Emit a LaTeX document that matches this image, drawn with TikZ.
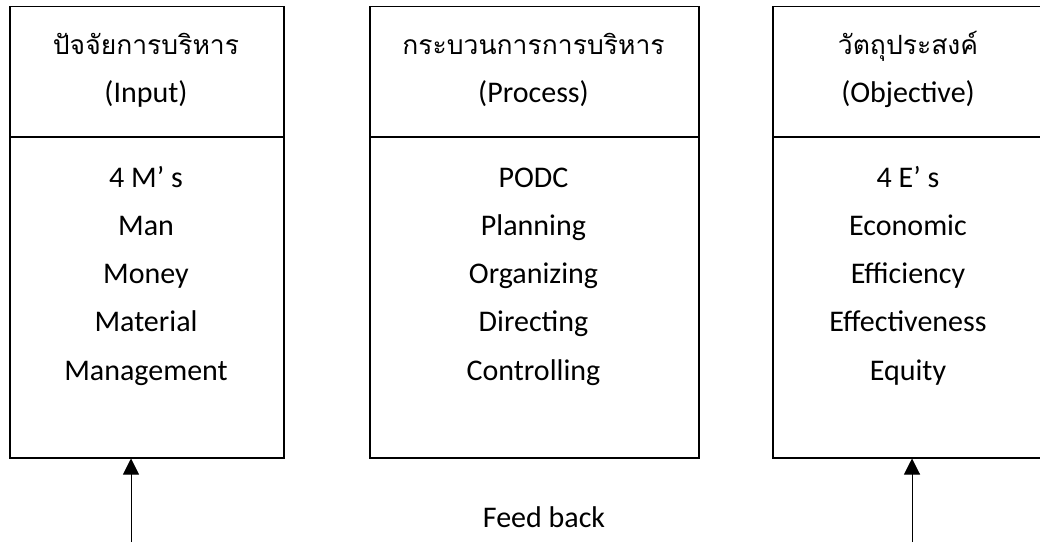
\documentclass[tikz,border=0pt]{standalone}
\usepackage{fontspec}
\setmainfont{Carlito}
\newfontfamily\thaifont[Script=Thai]{Loma}
\usetikzlibrary{arrows.meta}

\tikzset{
  frame/.style={draw=black, line width=1.5pt, inner sep=0pt, anchor=north west},
  line/.style={inner sep=0pt, anchor=base, font=\fontsize{30}{36}\selectfont},
  thai/.style={inner sep=0pt, anchor=base, font=\thaifont\fontsize{26.5}{32}\selectfont},
  feed/.style={draw=black, line width=1pt, -{Triangle[width=16pt,length=16pt]}}
}

\begin{document}
\begin{tikzpicture}[x=1pt,y=1pt]
  \useasboundingbox (0,0) rectangle (1040,542);
  \clip (0,0) rectangle (1040,542);

  % frames with a header row
  \node[frame, minimum width=274pt, minimum height=451pt] (box1) at (9,536) {};
  \node[frame, minimum width=329pt, minimum height=451pt] (box2) at (369,536) {};
  \node[frame, minimum width=272pt, minimum height=451pt] (box3) at (772,536) {};
  \foreach \b in {box1,box2,box3}
    \draw[line width=1.5pt] ([yshift=-131pt]\b.north west) -- ([yshift=-131pt]\b.north east);

  % headers
  \node[thai] (h1) at (146,487) {ปัจจัยการบริหาร};
  \node[line] (e1) at (146,439) {(Input)};
  \node[thai] (h2) at (533.5,487) {กระบวนการการบริหาร};
  \node[line] (e2) at (533.5,439) {(Process)};
  \node[thai] (h3) at (908,487) {วัตถุประสงค์};
  \node[line] (e3) at (908,439) {(Objective)};

  % item lists
  \foreach \t [count=\i, evaluate=\i as \yy using 355-48.3*(\i-1)] in
      {4 M’ s, Man, Money, Material, Management}
    \node[line] (m\i) at (146,\yy) {\t};
  \foreach \t [count=\i, evaluate=\i as \yy using 355-48.3*(\i-1)] in
      {PODC, Planning, Organizing, Directing, Controlling}
    \node[line] (p\i) at (533.5,\yy) {\t};
  \foreach \t [count=\i, evaluate=\i as \yy using 355-48.3*(\i-1)] in
      {4 E’ s, Economic, Efficiency, Effectiveness, Equity}
    \node[line] (o\i) at (908,\yy) {\t};

  % feedback
  \node[line] (fb) at (544,15) {Feed back};
  \coordinate (f1) at (131,0);
  \coordinate (f3) at (912,0);
  \draw[feed] (f1) -- (f1 |- box1.south);
  \draw[feed] (f3) -- (f3 |- box3.south);
\end{tikzpicture}
\end{document}
